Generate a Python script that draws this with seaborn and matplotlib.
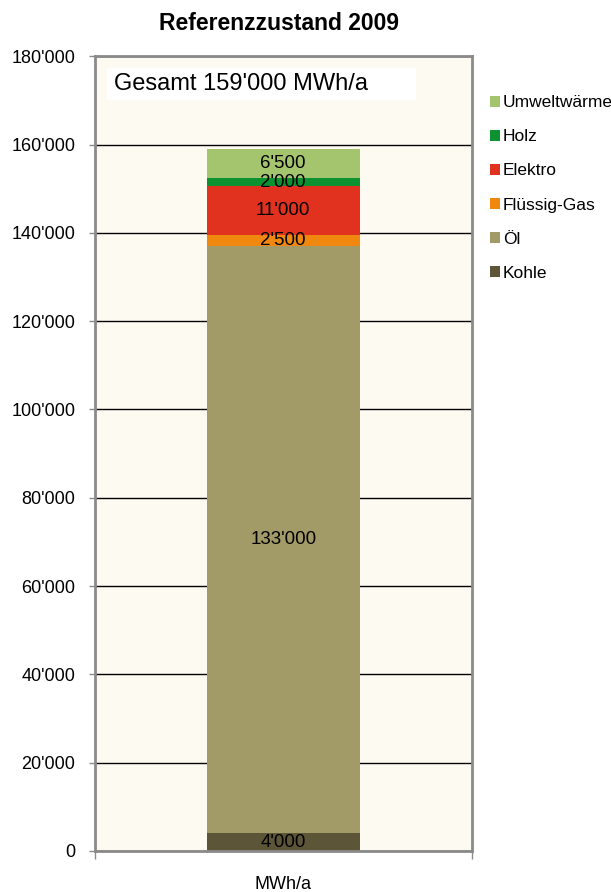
import matplotlib
matplotlib.use("Agg")
import matplotlib.pyplot as plt
import seaborn as sns
import numpy as np
from matplotlib.ticker import FuncFormatter, FixedLocator
from matplotlib.patches import Patch, Rectangle

# data (bottom to top)
sources = ['Kohle', 'Öl', 'Flüssig-Gas', 'Elektro', 'Holz', 'Umweltwärme']
values = [4000, 133000, 2500, 11000, 2000, 6500]
colors = ['#5c5537', '#a29b67', '#f0870f', '#e0321f', '#0c9231', '#a4c46e']
category = ['MWh/a']
total = 159000

def fmt(v, pos=None):
    return f"{int(v):,}".replace(',', "'")

sns.set_style('white')
plt.rcParams['font.family'] = ['Liberation Sans', 'DejaVu Sans']
plt.rcParams['text.color'] = 'black'
plt.rcParams['xtick.color'] = 'black'
plt.rcParams['ytick.color'] = 'black'

fig = plt.figure(figsize=(6.11, 8.92), dpi=100)
ax = fig.add_axes([0.155, 0.046, 0.617, 0.891])
ax.set_facecolor('#fdfaf2')

cum = np.cumsum(values)
# draw stacked bars from the top layer down
for i in range(len(values) - 1, -1, -1):
    sns.barplot(x=category, y=[cum[i]], color=colors[i], saturation=1,
                width=0.406, linewidth=0, edgecolor='none', ax=ax, zorder=2)

bottoms = cum - np.array(values)
for v, b in zip(values, bottoms):
    ax.text(0, b + v / 2, fmt(v), ha='center', va='center', fontsize=13.5, zorder=3)

ax.set_ylim(0, 180000)
ax.set_xlim(-0.5, 0.5)
ax.yaxis.set_major_locator(FixedLocator(np.arange(0, 180001, 20000)))
ax.yaxis.set_major_formatter(FuncFormatter(fmt))
ax.set_axisbelow(True)
ax.yaxis.grid(True, color='black', lw=1)
ax.xaxis.grid(False)

for s in ax.spines.values():
    s.set_color('#8a8a8a')
    s.set_linewidth(2)

ax.tick_params(axis='y', left=True, length=4, width=1, color='#8a8a8a',
               labelsize=13, pad=10)
ax.set_xticks([0])
ax.set_xticklabels(category, fontsize=13)
ax.tick_params(axis='x', which='major', length=0, pad=18)
ax.set_xticks([-0.5, 0.5], minor=True)
ax.tick_params(axis='x', which='minor', bottom=True, length=6, width=1, color='#8a8a8a')
ax.set_xlabel('')
ax.set_ylabel('')

# white box behind the total text
ax.add_patch(Rectangle((0.032, 0.945), 0.82, 0.040, transform=ax.transAxes,
                       facecolor='white', edgecolor='none', zorder=3))
ax.text(0.05, 0.965, f"Gesamt {fmt(total)} MWh/a", transform=ax.transAxes,
        fontsize=17, va='center', ha='left', zorder=4)

fig.suptitle('Referenzzustand 2009', fontsize=16.5, fontweight='bold', x=0.457, y=0.986)

handles = [Patch(facecolor=c, edgecolor='none', label=s) for s, c in zip(sources, colors)]
leg = fig.legend(handles[::-1], sources[::-1], loc='upper left',
                 bbox_to_anchor=(0.79, 0.901), frameon=False, fontsize=12.5,
                 handlelength=0.6, handleheight=0.6, handletextpad=0.15,
                 labelspacing=1.1, borderaxespad=0)

fig.savefig('out.png', dpi=100)
